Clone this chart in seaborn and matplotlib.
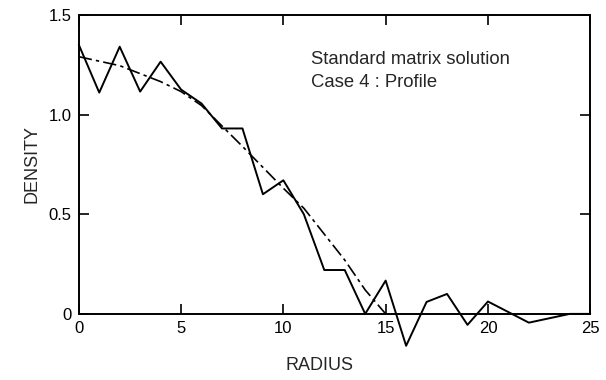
import matplotlib
matplotlib.use("Agg")
import matplotlib.pyplot as plt
import seaborn as sns
import pandas as pd

# Measured profile (solid)
radius_meas = [0, 1, 2, 3, 4, 5, 6, 7, 8, 9, 10, 11, 12, 13, 14, 15, 16, 17, 18, 19, 20, 22, 24, 25]
density_meas = [1.35, 1.11, 1.34, 1.115, 1.265, 1.125, 1.055, 0.93, 0.93, 0.60, 0.67, 0.50,
                0.22, 0.22, 0.0, 0.167, -0.16, 0.06, 0.10, -0.055, 0.062, -0.044, 0.0, 0.0]

# Standard matrix solution (dash-dot)
radius_std = [0, 2, 4, 5, 6, 8, 10, 11, 12, 13, 14, 15]
density_std = [1.29, 1.245, 1.165, 1.115, 1.045, 0.84, 0.63, 0.53, 0.40, 0.27, 0.12, 0.0]

x_ticks = [0, 5, 10, 15, 20, 25]
y_ticks = [0, 0.5, 1.0, 1.5]
y_tick_labels = ["0", "0.5", "1.0", "1.5"]
annotation = ["Standard matrix solution", "Case 4 : Profile"]

sns.set_style("ticks")
plt.rcParams["font.family"] = ["Liberation Sans", "DejaVu Sans"]

fig = plt.figure(figsize=(6.06, 3.80), dpi=100)
ax = fig.add_axes([0.130, 0.174, 0.844, 0.787])

df_meas = pd.DataFrame({"r": radius_meas, "d": density_meas})
df_std = pd.DataFrame({"r": radius_std, "d": density_std})

sns.lineplot(data=df_meas, x="r", y="d", ax=ax, color="black", linewidth=1.4, sort=False)
sns.lineplot(data=df_std, x="r", y="d", ax=ax, color="black", linewidth=1.2, sort=False)
ax.lines[-1].set_dashes((8, 2.5, 2, 2.5))

ax.set_xlim(0, 25)
ax.set_ylim(0, 1.5)
ax.set_xticks(x_ticks)
ax.set_yticks(y_ticks)
ax.set_yticklabels(y_tick_labels)
for s in ax.spines.values():
    s.set_visible(True)
    s.set_linewidth(1.4)
    s.set_color("black")
ax.tick_params(direction="in", length=7, width=1.2, top=True, right=True,
               labelsize=12, colors="black", pad=5)

ax.set_xlabel("RADIUS", fontsize=13)
ax.set_ylabel("DENSITY", fontsize=13)
ax.xaxis.set_label_coords(0.47, -0.145)
ax.yaxis.set_label_coords(-0.075, 0.5)

ax.text(0.454, 0.85, annotation[0], transform=ax.transAxes, fontsize=13.3, va="center", ha="left")
ax.text(0.454, 0.773, annotation[1], transform=ax.transAxes, fontsize=13.3, va="center", ha="left")

# Allow solid line to dip below axis
for ln in ax.lines:
    ln.set_clip_on(False)

fig.savefig("out.png", dpi=100)
